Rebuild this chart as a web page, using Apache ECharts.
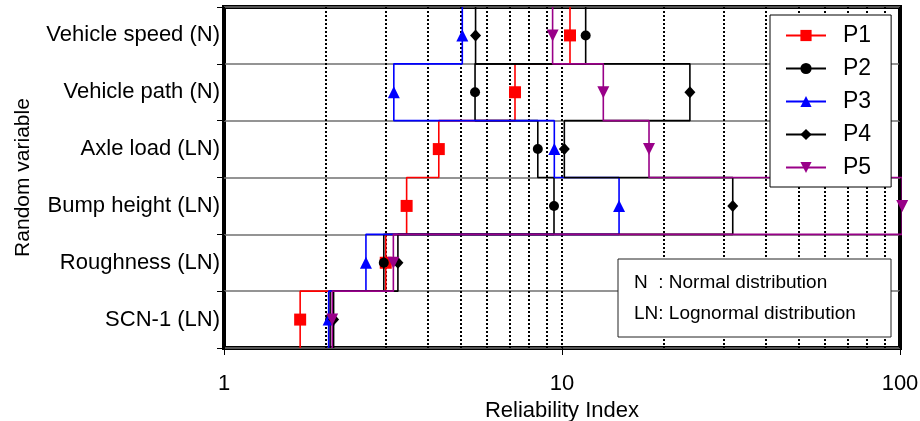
<!DOCTYPE html>
<html>
<head>
<meta charset="utf-8">
<script src="https://cdn.jsdelivr.net/npm/echarts@6/dist/echarts.min.js"></script>
<style>
html,body{margin:0;padding:0;background:#fff;}
#chart{width:920px;height:421px;}
</style>
</head>
<body>
<div id="chart"></div>
<script>
// Categories, bottom to top
const categories = ['SCN-1 (LN)', 'Roughness (LN)', 'Bump height (LN)', 'Axle load (LN)', 'Vehicle path (N)', 'Vehicle speed (N)'];
// Reliability index per random variable (bottom to top)
const P1 = [1.68, 3.01, 3.47, 4.32, 7.26, 10.56];
const P2 = [2.06, 2.97, 9.47, 8.48, 5.53, 11.75];
const P3 = [2.04, 2.63, 14.75, 9.49, 3.18, 5.07];
const P4 = [2.11, 3.27, 32.0, 10.16, 23.9, 5.55];
const P5 = [2.09, 3.17, 101.5, 18.09, 13.25, 9.38];
const seriesNames = ['P1', 'P2', 'P3', 'P4', 'P5'];
const xTickLabels = ['1', '10', '100'];
const noteLines = ['N  : Normal distribution', 'LN: Lognormal distribution'];

const FONT = 'Liberation Sans, Arial, sans-serif';
const styles = [
  {color: '#ff0000', symbol: 'rect', size: 12},
  {color: '#000000', symbol: 'circle', size: 10},
  {color: '#0000ff', symbol: 'triangle', size: 12},
  {color: '#000000', symbol: 'diamond', size: [11, 12]},
  {color: '#990088', symbol: 'path://M0,0L10,0L5,9Z', size: 12}
];

function stepData(vals) {
  const d = [];
  vals.forEach(function (v, i) {
    d.push({value: [v, i], symbol: 'none'});
    d.push({value: [v, i + 0.5]});
    d.push({value: [v, i + 1], symbol: 'none'});
  });
  return d;
}

const allData = [P1, P2, P3, P4, P5];
const series = allData.map(function (vals, k) {
  const s = styles[k];
  return {
    name: seriesNames[k],
    type: 'line',
    xAxisIndex: 0,
    yAxisIndex: 1,
    data: stepData(vals),
    symbol: s.symbol,
    symbolSize: s.size,
    showAllSymbol: true,
    clip: false,
    lineStyle: {color: s.color, width: 1.6},
    itemStyle: {color: s.color},
    emphasis: {disabled: true},
    animation: false,
    z: 3 + k * 0.01
  };
});

const chart = echarts.init(document.getElementById('chart'), null, {renderer: 'canvas'});
chart.setOption({
  animation: false,
  backgroundColor: '#ffffff',
  grid: {left: 224, right: 20, top: 7, bottom: 73, show: true, borderColor: '#000', borderWidth: 4,
    backgroundColor: 'transparent', containLabel: false, outerBoundsMode: 'none'},
  legend: {
    orient: 'vertical',
    left: 770,
    top: 15,
    data: seriesNames,
    itemWidth: 40,
    itemHeight: 14,
    itemGap: 10,
    padding: [9, 20, 8, 15],
    backgroundColor: '#ffffff',
    borderColor: '#000',
    borderWidth: 1,
    textStyle: {fontFamily: FONT, fontSize: 23, color: '#000', lineHeight: 22, padding: [0, 0, 0, 12]},
    z: 10
  },
  xAxis: [{
    type: 'log',
    logBase: 10,
    min: 1,
    max: 100,
    name: 'Reliability Index',
    nameLocation: 'middle',
    nameGap: 46,
    nameTextStyle: {fontFamily: FONT, fontSize: 22, color: '#000'},
    axisLine: {show: false},
    axisTick: {show: true, length: 7, lineStyle: {color: '#000', width: 1}},
    axisLabel: {fontFamily: FONT, fontSize: 22, color: '#000', margin: 25,
      formatter: function (v) { const i = Math.round(Math.log10(v)); return xTickLabels[i] !== undefined ? xTickLabels[i] : ''; }},
    splitLine: {show: true, lineStyle: {color: '#000', width: 2, type: [2, 2]}},
    minorTick: {show: false, splitNumber: 9},
    minorSplitLine: {show: true, lineStyle: {color: '#000', width: 2, type: [2, 2]}}
  }],
  yAxis: [{
    type: 'category',
    data: categories,
    boundaryGap: true,
    position: 'left',
    name: 'Random variable',
    nameLocation: 'middle',
    nameGap: 190,
    nameRotate: 90,
    nameTextStyle: {fontFamily: FONT, fontSize: 21, color: '#000'},
    axisLine: {show: false},
    axisTick: {show: true, length: 7, lineStyle: {color: '#000', width: 1}},
    axisLabel: {fontFamily: FONT, fontSize: 22, color: '#000', margin: 4},
    splitLine: {show: true, lineStyle: {color: '#707070', width: 1.5}}
  }, {
    type: 'value',
    min: 0,
    max: 6,
    interval: 1,
    position: 'left',
    show: false,
    splitLine: {show: false}
  }],
  graphic: [
    {type: 'rect', z: 100, shape: {x: 618, y: 259, width: 273, height: 78}, style: {fill: '#fff', stroke: '#222', lineWidth: 1}},
    {type: 'text', z: 101, x: 634, y: 283, style: {text: noteLines[0], fill: '#000', font: '19px ' + FONT, verticalAlign: 'middle'}},
    {type: 'text', z: 101, x: 634, y: 314, style: {text: noteLines[1], fill: '#000', font: '19px ' + FONT, verticalAlign: 'middle'}}
  ],
  series: series
});
</script>
</body>
</html>
